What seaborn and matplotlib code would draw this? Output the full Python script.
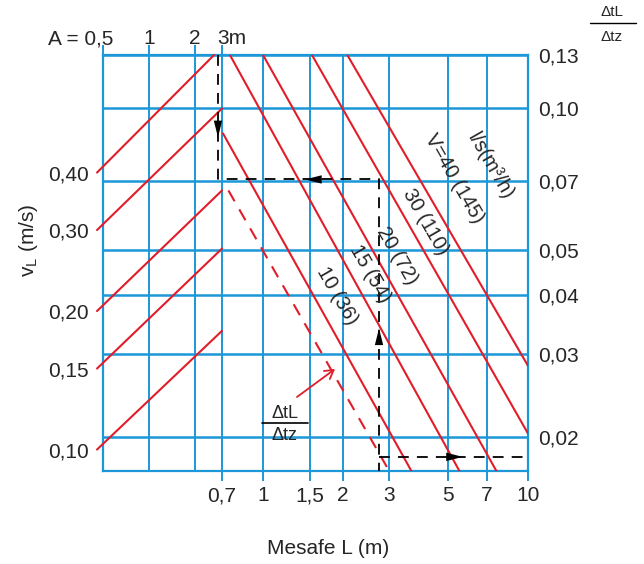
import numpy as np
import pandas as pd
import matplotlib
matplotlib.use("Agg")
import matplotlib.pyplot as plt
import matplotlib.transforms as mtransforms
from matplotlib.lines import Line2D
from matplotlib.ticker import NullLocator
import seaborn as sns

BLUE = "#1c97d8"
RED = "#e11d2a"

# ---- scales -------------------------------------------------------------
L_ticks = [0.7, 1, 1.5, 2, 3, 5, 7, 10]
L_labels = ["0,7", "1", "1,5", "2", "3", "5", "7", "10"]
A_ticks = [0.5, 1, 2, 3]
A_labels = ["A = 0,5", "1", "2", "3m"]
ratio_ticks = [0.02, 0.03, 0.04, 0.05, 0.07, 0.10, 0.13]
ratio_labels = ["0,02", "0,03", "0,04", "0,05", "0,07", "0,10", "0,13"]
vl_ticks = [0.10, 0.15, 0.20, 0.30, 0.40]
vl_labels = ["0,10", "0,15", "0,20", "0,30", "0,40"]

# ---- flow-rate lines V in l/s (m³/h): end points (L, ΔtL/Δtz) ------------
flow_names = ["10 (36)", "15 (54)", "20 (72)", "30 (110)", "V=40 (145)"]
flow_L_start = [0.706, 0.75, 1.0, 1.53, 2.08]
flow_r_start = [0.0885, 0.13, 0.13, 0.13, 0.13]
flow_L_end = [3.65, 5.54, 7.64, 10.0, 10.0]
flow_r_end = [0.0168, 0.0168, 0.0168, 0.0203, 0.0283]

# dashed limit line
limit_L = [0.74, 3.01]
limit_r = [0.0669, 0.0168]

# ---- air speed lines: from vL on the left edge up to the A scale ----------
vl_start = [0.40, 0.30, 0.20, 0.15, 0.10]
vl_A_start = [0.457, 0.457, 0.457, 0.457, 0.457]
vl_A_end = [2.66, 3.0, 3.0, 3.0, 3.0]
vl_r_end = [0.13, 0.100, 0.0669, 0.0503, 0.0336]

# ---- worked example -------------------------------------------------------
path_L = [0.676, 0.676, 2.74, 2.74]
path_r = [0.13, 0.0706, 0.0706, 0.0169]
exit_L = [2.74, 9.85]
exit_r = [0.0181, 0.0181]

# ---- axis relations -------------------------------------------------------
L_LEFT = 0.2489
A_EXP = 153 / 265


def a_to_L(a):
    a = np.clip(np.asarray(a, float), 1e-9, None)
    return L_LEFT * (a / 0.5) ** A_EXP


def L_to_a(L):
    L = np.clip(np.asarray(L, float), 1e-9, None)
    return 0.5 * (L / L_LEFT) ** (1 / A_EXP)


def vl_to_r(v):
    v = np.clip(np.asarray(v, float), 1e-9, None)
    return 0.02 * 10 ** ((460 * np.log10(v / 0.1) - 13) / 469.3)


def r_to_vl(r):
    r = np.clip(np.asarray(r, float), 1e-9, None)
    return 0.1 * 10 ** ((469.3 * np.log10(r / 0.02) + 13) / 460)


sns.set_theme(style="white")
plt.rcParams["font.family"] = ["Liberation Sans", "DejaVu Sans"]
plt.rcParams["axes.edgecolor"] = BLUE

W, H = 644, 564
fig = plt.figure(figsize=(W / 100, H / 100), dpi=100)
ax = fig.add_axes([103 / W, (H - 471) / H, 425 / W, 416 / H])
ax.set_xscale("log")
ax.set_yscale("log")
ax.set_xlim(L_LEFT, 10)
ax.set_ylim(0.01689, 0.13)
for s in ax.spines.values():
    s.set_color(BLUE)
    s.set_linewidth(1.6)

# grid of the nomogram
for L in L_ticks:
    ax.axvline(L, color=BLUE, lw=1.4, zorder=1)
for a in A_ticks[:-1]:
    ax.axvline(float(a_to_L(a)), color=BLUE, lw=1.4, zorder=1)
for r in ratio_ticks:
    ax.axhline(r, color=BLUE, lw=1.8, zorder=1)

# bottom: distance L
ax.set_xticks(L_ticks, labels=L_labels)
ax.xaxis.set_minor_locator(NullLocator())
ax.tick_params(axis="x", direction="out", length=7, width=1.4, color=BLUE,
               labelsize=15, pad=4, bottom=True)

# right: ΔtL/Δtz
ax.yaxis.tick_right()
ax.set_yticks(ratio_ticks, labels=ratio_labels)
ax.yaxis.set_minor_locator(NullLocator())
ax.tick_params(axis="y", length=0, labelsize=15, pad=7)

# left: air speed vL
sec_y = ax.secondary_yaxis("left", functions=(r_to_vl, vl_to_r))
sec_y.set_yticks(vl_ticks, labels=vl_labels)
sec_y.yaxis.set_minor_locator(NullLocator())
sec_y.tick_params(length=0, labelsize=15, pad=10)
sec_y.spines["left"].set_visible(False)

# top: A scale
sec_x = ax.secondary_xaxis("top", functions=(L_to_a, a_to_L))
sec_x.set_xticks(A_ticks, labels=A_labels)
sec_x.xaxis.set_minor_locator(NullLocator())
sec_x.tick_params(direction="out", length=7, width=1.4, color=BLUE,
                  labelsize=15, pad=0)
sec_x.spines["top"].set_visible(False)
for lab in sec_x.get_xticklabels():
    txt = lab.get_text()
    if txt.startswith("A"):
        lab.set_ha("right")
        lab.set_transform(lab.get_transform() + mtransforms.ScaledTranslation(
            0.10, -0.03, fig.dpi_scale_trans))
    elif txt == "3m":
        lab.set_ha("left")
        lab.set_transform(lab.get_transform() + mtransforms.ScaledTranslation(
            -0.05, -0.03, fig.dpi_scale_trans))
    else:
        lab.set_transform(lab.get_transform() + mtransforms.ScaledTranslation(
            0, -0.03, fig.dpi_scale_trans))

# red lines
flow_df = pd.DataFrame({
    "L": flow_L_start + flow_L_end,
    "r": flow_r_start + flow_r_end,
    "V": flow_names * 2,
})
sns.lineplot(data=flow_df, x="L", y="r", units="V", estimator=None, sort=False,
             color=RED, lw=1.5, ax=ax, legend=False, zorder=3)

speed_df = pd.DataFrame({
    "L": list(a_to_L(vl_A_start)) + list(a_to_L(vl_A_end)),
    "r": list(vl_to_r(vl_start)) + vl_r_end,
    "vL": vl_labels * 2,
})
sns.lineplot(data=speed_df, x="L", y="r", units="vL", estimator=None, sort=False,
             color=RED, lw=1.5, ax=ax, legend=False, zorder=3, clip_on=False)

limit_df = pd.DataFrame({"L": limit_L, "r": limit_r})
sns.lineplot(data=limit_df, x="L", y="r", estimator=None, sort=False,
             color=RED, lw=1.5, ax=ax, legend=False, zorder=3,
             linestyle=(0, (6, 4.5)))

# example path
path_df = pd.DataFrame({"L": path_L, "r": path_r})
sns.lineplot(data=path_df, x="L", y="r", estimator=None, sort=False,
             color="black", lw=1.3, ax=ax, legend=False, zorder=4,
             linestyle=(0, (6, 4.5)))
exit_df = pd.DataFrame({"L": exit_L, "r": exit_r})
sns.lineplot(data=exit_df, x="L", y="r", estimator=None, sort=False,
             color="black", lw=1.3, ax=ax, legend=False, zorder=4,
             linestyle=(0, (6, 4.5)))
ax.set_xlabel("")
ax.set_ylabel("")


def head(tip, base):
    ax.annotate("", xy=tip, xytext=base,
                arrowprops=dict(arrowstyle="-|>,head_length=0.6,head_width=0.15",
                                color="black", lw=0.01, shrinkA=0, shrinkB=0,
                                mutation_scale=20), zorder=5)


head((0.676, 0.0868), (0.676, 0.0938))
head((1.44, 0.0706), (1.64, 0.0706))
head((2.74, 0.0340), (2.74, 0.0305))
head((5.68, 0.0181), (4.945, 0.0181))

# line labels
label_pos = [(1.90, 0.0399), (2.53, 0.0445), (3.20, 0.0486), (4.09, 0.0574), (5.26, 0.0709)]
for name, (lx, ly) in zip(flow_names, label_pos):
    ax.text(lx, ly, name, rotation=-60, rotation_mode="anchor", ha="center",
            va="center", fontsize=14.5, zorder=6)
ax.text(7.19, 0.0752, "l/s(m³/h)", rotation=-60, rotation_mode="anchor",
        ha="center", va="center", fontsize=14.5, zorder=6)


def fx(x):
    return x / W


def fy(y):
    return 1 - y / H


# ΔtL/Δtz fraction in the field with its pointer
fig.text(fx(285), fy(413), "ΔtL", ha="center", va="center", fontsize=13)
fig.text(fx(285), fy(435), "Δtz", ha="center", va="center", fontsize=13)
fig.add_artist(Line2D([fx(262), fx(308)], [fy(423), fy(423)], color="black",
                      lw=1.2, transform=fig.transFigure))
ax.annotate("", xy=(335, H - 369), xytext=(297, H - 397), xycoords="figure pixels",
            textcoords="figure pixels",
            arrowprops=dict(arrowstyle="->,head_length=0.5,head_width=0.3",
                            color=RED, lw=1.3, shrinkA=0, shrinkB=0))

# header of the right scale
fig.text(fx(612), fy(12), "ΔtL", ha="center", va="center", fontsize=11)
fig.text(fx(612), fy(37), "Δtz", ha="center", va="center", fontsize=11)
fig.add_artist(Line2D([fx(590), fx(636)], [fy(23), fy(23)], color="black",
                      lw=1.0, transform=fig.transFigure))

# axis titles
fig.text(fx(28), fy(240), "v$_\\mathregular{L}$ (m/s)", rotation=90, ha="center",
         va="center", fontsize=15)
fig.text(fx(328), fy(548), "Mesafe L (m)", ha="center", va="center", fontsize=15)

fig.savefig("out.png", dpi=100)
